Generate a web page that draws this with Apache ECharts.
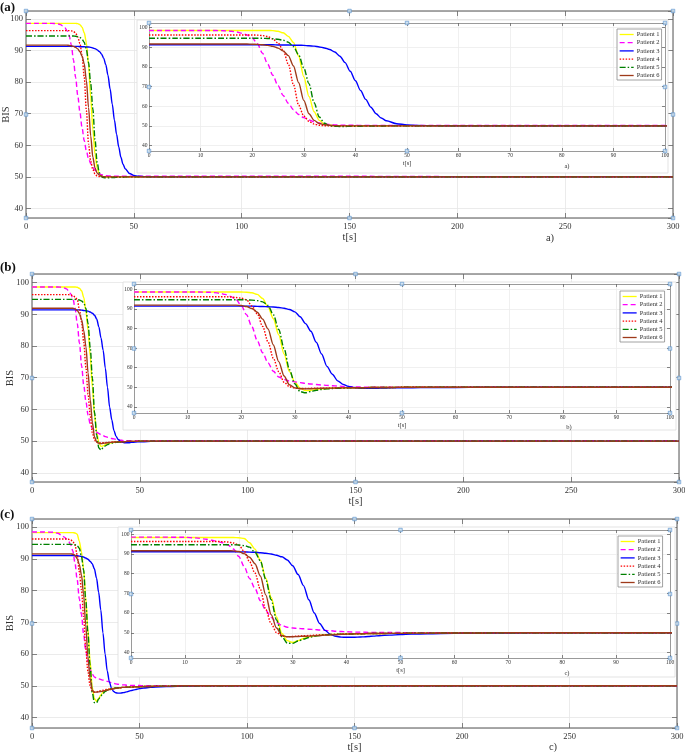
<!DOCTYPE html>
<html><head><meta charset="utf-8">
<script src="https://cdn.jsdelivr.net/npm/echarts@6/dist/echarts.min.js"></script>
<style>html,body{margin:0;padding:0;background:#fff}#c{width:685px;height:752px}</style>
</head><body><div id="c"></div>
<script>
// ---------------- DATA ----------------
const time = [0,5,10,12,14,15,16,17,18,19,
  20,21,22,23,24,25,26,27,28,29,
  30,31,32,33,34,35,36,37,38,39,
  40,41,42,43,44,45,46,48,50,52,
  55,60,65,70,80,90,100,150,200,250,300];
const patientNames = ['Patient 1','Patient 2','Patient 3','Patient 4','Patient 5','Patient 6'];
const panelTags = ['(a)','(b)','(c)'];
const captionTags = ['a)','b)','c)'];
const yTitle = 'BIS';

// panel (a)
const bisA1 = [98.6,98.6,98.6,98.6,98.6,98.6,98.6,98.6,98.6,98.6,
  98.6,98.6,98.6,98.6,98.5,98.2,97.4,95.6,92.5,85.5,
  75,65,57.2,52.8,50.9,50.3,50.1,50,50,50,
  50,50,50,50,50,50,50,50,50,50,
  50,50,50,50,50,50,50,50,50,50,50];
const bisA2 = [98.6,98.6,98.6,98.6,98.5,98.4,98.2,97.8,97.2,96.3,
  94.8,91.8,87,81.5,75.8,70.5,65.5,61.5,58.2,55.8,
  54.2,53,52.1,51.5,51,50.7,50.5,50.4,50.3,50.3,
  50.3,50.2,50.2,50.2,50.2,50.2,50.2,50.2,50.2,50.2,
  50.2,50.2,50.2,50.2,50.2,50.2,50.2,50.2,50.1,50.1,50.1];
const bisA3 = [91.3,91.3,91.3,91.3,91.3,91.3,91.3,91.3,91.3,91.3,
  91.3,91.3,91.3,91.3,91.3,91.2,91.2,91.2,91.1,91.1,
  91,90.8,90.6,90.2,89.7,88.9,87.6,85.5,82.2,77.8,
  73,68,63.5,59.5,56.2,54,52.6,51.1,50.5,50.2,
  50.1,50,50,50,50,50,50,50,50,50,50];
const bisA4 = [96.3,96.3,96.3,96.3,96.3,96.3,96.3,96.3,96.3,96.3,
  96.3,96.2,96,95.5,94.3,92.2,88.5,81.5,71,60.5,
  55,52.3,50.9,50.3,50.1,50,50,50,50,50,
  50,50,50,50,50,50,50,50,50,50,
  50,50,50,50,50,50,50,50,50,50,50];
const bisA5 = [94.6,94.6,94.6,94.6,94.6,94.6,94.6,94.6,94.6,94.6,
  94.6,94.6,94.6,94.5,94.4,94.1,93.6,92.6,90.3,86.2,
  79.5,71.5,61.8,54.5,51.3,50.1,49.8,49.7,49.7,49.8,
  49.8,49.8,49.9,49.9,49.9,49.9,50,50,50,50,
  50,50,50,50,50,50,50,50,50,50,50];
const bisA6 = [91.7,91.7,91.7,91.7,91.7,91.7,91.7,91.7,91.7,91.7,
  91.6,91.5,91.3,91,90.5,89.6,88.2,85.8,80.5,72,
  63,56.2,52.8,51.2,50.6,50.3,50.1,50,50,50,
  50,50,50,50,50,50,50,50,50,50,
  50,50,50,50,50,50,50,50,50,50,50];

// panel (b)
const bisB1 = [98.6,98.6,98.6,98.6,98.6,98.6,98.6,98.6,98.6,98.6,
  98.6,98.5,98.2,97.4,95.3,91,85,76.8,67,58,
  52.8,49.5,48.3,48.5,48.9,49.2,49.4,49.5,49.6,49.7,
  49.7,49.8,49.8,49.8,49.9,49.9,49.9,49.9,50,50,
  50,50,50,50,50,50,50,50,50,50,50];
const bisB2 = [98.6,98.6,98.6,98.6,98.5,98.3,98,97.4,96.4,94.9,
  91.8,87,80.9,73.8,67.6,62.5,58.2,55.3,54,53.2,
  52.8,52.4,52,51.7,51.4,51.2,51,50.8,50.7,50.5,
  50.4,50.3,50.2,50.1,50.1,50.1,50.1,50.1,50.1,50.1,
  50.1,50.1,50.1,50.1,50.1,50.1,50.1,50.1,50.1,50.1,50.1];
const bisB3 = [91.4,91.4,91.4,91.4,91.4,91.4,91.4,91.4,91.4,91.4,
  91.4,91.4,91.4,91.3,91.2,91.1,91,90.7,90.3,89.7,
  88.5,86,82.5,78.6,73,67,60.7,56.7,53.3,51.5,
  50.5,49.9,49.6,49.5,49.5,49.5,49.6,49.7,49.8,49.8,
  49.9,49.9,50,50,50,50,50,50,50,50,50];
const bisB4 = [96.2,96.2,96.2,96.2,96.2,96.2,96.2,96.2,96.1,95.8,
  95.5,94.6,91.5,87.5,81.1,73.2,64.8,58,52.6,50.3,
  49.6,49.4,49.4,49.5,49.5,49.6,49.6,49.7,49.7,49.7,
  49.8,49.8,49.8,49.8,49.9,49.9,49.9,49.9,50,50,
  50,50,50,50,50,50,50,50,50,50,50];
const bisB5 = [94.7,94.7,94.7,94.7,94.7,94.7,94.7,94.7,94.7,94.7,
  94.7,94.6,94.5,94.2,93.6,91.8,87,79.5,69.8,59,
  51.8,47.8,47.2,47.9,48.5,48.9,49.2,49.4,49.5,49.6,
  49.7,49.7,49.8,49.8,49.9,49.9,49.9,49.9,50,50,
  50,50,50,50,50,50,50,50,50,50,50];
const bisB6 = [91.9,91.9,91.9,91.9,91.9,91.9,91.9,91.9,91.9,91.9,
  91.7,91.2,90.2,88.3,84.8,79.8,71.6,63.1,55.8,51.3,
  49.7,49.3,49.2,49.3,49.4,49.5,49.6,49.6,49.7,49.7,
  49.8,49.8,49.8,49.8,49.9,49.9,49.9,49.9,50,50,
  50,50,50,50,50,50,50,50,50,50,50];

// panel (c)
const bisC1 = [98.3,98.3,98.3,98.3,98.3,98.3,98.3,98.3,98.3,98.3,
  98.2,97.8,95.6,92.4,86.8,77.8,68,58,49.6,46,
  45.1,46,47.1,47.9,48.4,48.7,48.9,49.1,49.2,49.3,
  49.4,49.4,49.5,49.5,49.6,49.6,49.6,49.7,49.7,49.8,
  49.8,49.9,49.9,50,50,50,50,50,50,50,50];
const bisC2 = [98.5,98.5,98.4,98.1,97.4,96.9,96.3,95.6,94.5,92.5,
  88.7,83.5,77.5,72.5,66.3,61.4,57.8,55.2,53.7,52.8,
  52.4,52.2,52,51.8,51.6,51.4,51.2,51,50.8,50.6,
  50.5,50.4,50.3,50.3,50.2,50.2,50.1,50.1,50.1,50,
  50,50,50,50,50,50,50,50,50,50,50];
const bisC3 = [91.1,91.1,91.1,91.1,91.1,91.1,91.1,91.1,91.1,91.1,
  91,91,90.9,90.8,90.6,90.3,89.9,89.3,88.5,86.9,
  84,79.5,73.9,66.7,60,54.7,51.2,49.2,48.2,47.8,
  47.7,47.7,47.8,47.9,48.1,48.3,48.5,48.8,49.1,49.3,
  49.5,49.7,49.8,49.9,50,50,50,50,50,50,50];
const bisC4 = [96.3,96.3,96.3,96.3,96.3,96.3,96.3,96.2,96,95.5,
  94.4,91.3,86,80.3,72,61.8,54.6,50.1,48.3,48,
  48.1,48.3,48.5,48.6,48.8,48.9,49,49.1,49.2,49.3,
  49.4,49.4,49.5,49.5,49.6,49.6,49.6,49.7,49.7,49.8,
  49.8,49.9,49.9,50,50,50,50,50,50,50,50];
const bisC5 = [94.6,94.6,94.6,94.6,94.6,94.6,94.6,94.6,94.6,94.6,
  94.5,94.2,93.4,90.8,86.5,77,66.8,56.5,48,44.7,
  44.6,45.8,46.8,47.6,48.2,48.6,48.9,49.1,49.2,49.3,
  49.4,49.4,49.5,49.5,49.6,49.6,49.6,49.7,49.7,49.8,
  49.8,49.9,49.9,50,50,50,50,50,50,50,50];
const bisC6 = [91.6,91.6,91.6,91.6,91.6,91.6,91.6,91.6,91.6,91.5,
  91.2,90.1,88.3,85,78.8,69.2,59.2,52.4,48.6,48,
  48,48.1,48.2,48.3,48.5,48.6,48.8,48.9,49,49.2,
  49.3,49.4,49.5,49.5,49.6,49.6,49.6,49.7,49.7,49.8,
  49.8,49.9,49.9,50,50,50,50,50,50,50,50];

const panelData = [
  [bisA1,bisA2,bisA3,bisA4,bisA5,bisA6],
  [bisB1,bisB2,bisB3,bisB4,bisB5,bisB6],
  [bisC1,bisC2,bisC3,bisC4,bisC5,bisC6]
];

// ---------------- STYLE / LAYOUT ----------------
const FONT = "'Liberation Serif','Times New Roman',serif";
const lineStyles = [
  {color:'#ffff00', type:'solid', width:1.4},
  {color:'#ff00ff', type:[5,3], width:1.4},
  {color:'#0000ff', type:'solid', width:1.4},
  {color:'#ff0000', type:[1.5,1.5], width:1.4},
  {color:'#008000', type:[6,2,1.5,2], width:1.4},
  {color:'#9e3a1a', type:'solid', width:1.4}
];
const layouts = [
  { main:{left:26, top:11, width:647, height:207, ymin:37, ymax:102.5, nameGap:13},
    inset:{left:149, top:23, width:516, height:128, ymin:37.2, ymax:102.4, nameGap:9},
    box:{x:137, y:20, w:531, h:153}, legend:{left:617, top:29},
    tag:{x:0, y:8}, bis:{x:6, y:114.5}, mainCap:{x:550, y:238}, insetCap:{x:567, y:166} },
  { main:{left:32, top:274, width:647, height:208, ymin:37.1, ymax:102.7, nameGap:11},
    inset:{left:134, top:284, width:536, height:129, ymin:36.9, ymax:102.7, nameGap:8},
    box:{x:123, y:282, w:553, h:148}, legend:{left:620, top:291},
    tag:{x:0, y:268}, bis:{x:10, y:378}, mainCap:null, insetCap:{x:569, y:427} },
  { main:{left:32, top:519, width:645, height:209, ymin:36.7, ymax:102.6, nameGap:13},
    inset:{left:131, top:530, width:539, height:128, ymin:37.2, ymax:102.1, nameGap:9},
    box:{x:118, y:527, w:557, h:150}, legend:{left:618, top:536},
    tag:{x:0, y:515}, bis:{x:10, y:623}, mainCap:{x:553, y:747}, insetCap:{x:567, y:673} }
];

const grid = [], xAxis = [], yAxis = [], series = [], legend = [], gEls = [];

function xAx(gi, min, max, interval, pos, opts) {
  const isInset = opts.inset;
  return Object.assign({
    gridIndex: gi, type:'value', min, max, interval, position: pos,
    z: isInset ? 4 : 0,
    axisLine:{show:true, onZero:false, lineStyle:{color: isInset ? '#9a9a9a' : '#8c8c8c', width: isInset ? 1 : 1.5}},
    axisTick:{show:true, inside:true, length: isInset ? 3 : 5, lineStyle:{color:'#666', width:0.8}},
    axisLabel:{show: pos === 'bottom', fontSize: isInset ? 5.5 : 8.5, color:'#333', fontFamily:FONT, margin: isInset ? 2 : 4},
    splitLine:{show: pos === 'bottom', lineStyle:{color: isInset ? '#ececec' : '#e6e6e6', width:0.8}}
  }, opts.extra || {});
}
function yAx(gi, min, max, pos, opts) {
  const isInset = opts.inset;
  return Object.assign({
    gridIndex: gi, type:'value', min, max, splitNumber:6, position: pos,
    z: isInset ? 4 : 0,
    axisLine:{show:true, onZero:false, lineStyle:{color: isInset ? '#9a9a9a' : '#8c8c8c', width: isInset ? 1 : 1.5}},
    axisTick:{show:true, inside:true, length: isInset ? 3 : 5, lineStyle:{color:'#666', width:0.8}},
    axisLabel:{show: pos === 'left', showMinLabel:false, showMaxLabel:false, fontSize: isInset ? 5.5 : 8.5, color:'#333', fontFamily:FONT, margin: isInset ? 1.5 : 3},
    splitLine:{show: pos === 'left', lineStyle:{color: isInset ? '#ececec' : '#e6e6e6', width:0.8}}
  }, opts.extra || {});
}

layouts.forEach((L, k) => {
  const gm = grid.length;
  grid.push({left:L.main.left, top:L.main.top, width:L.main.width, height:L.main.height, containLabel:false, outerBoundsMode:'none'});
  const gi = grid.length;
  grid.push({left:L.inset.left, top:L.inset.top, width:L.inset.width, height:L.inset.height, containLabel:false, outerBoundsMode:'none'});

  const xm = xAxis.length;
  xAxis.push(xAx(gm, 0, 300, 50, 'bottom', {inset:false, extra:{
    name:'t[s]', nameLocation:'middle', nameGap:L.main.nameGap,
    nameTextStyle:{fontSize:10.5, fontFamily:FONT, color:'#333'}}}));
  xAxis.push(xAx(gm, 0, 300, 50, 'top', {inset:false}));
  const xi = xAxis.length;
  xAxis.push(xAx(gi, 0, 100, 10, 'bottom', {inset:true, extra:{
    name:'t[s]', nameLocation:'middle', nameGap:L.inset.nameGap,
    nameTextStyle:{fontSize:6.5, fontFamily:FONT, color:'#333'}}}));
  xAxis.push(xAx(gi, 0, 100, 10, 'top', {inset:true}));

  const ym = yAxis.length;
  yAxis.push(yAx(gm, L.main.ymin, L.main.ymax, 'left', {inset:false}));
  yAxis.push(yAx(gm, L.main.ymin, L.main.ymax, 'right', {inset:false}));
  const yi = yAxis.length;
  yAxis.push(yAx(gi, L.inset.ymin, L.inset.ymax, 'left', {inset:true}));
  yAxis.push(yAx(gi, L.inset.ymin, L.inset.ymax, 'right', {inset:true}));

  panelData[k].forEach((vals, i) => {
    const pts = time.map((t, j) => [t, vals[j]]);
    series.push({type:'line', name:patientNames[i], xAxisIndex:xm, yAxisIndex:ym, data:pts,
      symbol:'none', smooth:0.3, smoothMonotone:'x', z:2, lineStyle:lineStyles[i], itemStyle:{color:lineStyles[i].color}});
    series.push({type:'line', name:patientNames[i], xAxisIndex:xi, yAxisIndex:yi, data:pts,
      symbol:'none', smooth:0.3, smoothMonotone:'x', z:5, lineStyle:lineStyles[i], itemStyle:{color:lineStyles[i].color}});
  });

  // selection handles (corner / mid markers)
  const handle = (xa, ya, xmin, xmax, ymin, ymax, z) => {
    const xmid = (xmin + xmax) / 2, ymid = (ymin + ymax) / 2;
    series.push({type:'scatter', name:'handles', xAxisIndex:xa, yAxisIndex:ya, silent:true, clip:false, z,
      symbol:'rect', symbolSize:3.5,
      itemStyle:{color:'#c6ddf1', borderColor:'#5b93cc', borderWidth:0.8},
      data:[[xmin,ymax],[xmid,ymax],[xmax,ymax],[xmin,ymid],[xmax,ymid],[xmin,ymin],[xmid,ymin],[xmax,ymin]]});
  };
  handle(xm, ym, 0, 300, L.main.ymin, L.main.ymax, 2.5);
  handle(xi, yi, 0, 100, L.inset.ymin, L.inset.ymax, 8);

  legend.push({data:patientNames, orient:'vertical', left:L.legend.left, top:L.legend.top, z:6,
    backgroundColor:'#fff', borderColor:'#8a8a8a', borderWidth:0.8, borderRadius:0,
    padding:[2,2,1,2], itemGap:1.2, itemWidth:14, itemHeight:6, selectedMode:false,
    itemStyle:{color:'rgba(0,0,0,0)', borderColor:'rgba(0,0,0,0)', borderWidth:0, opacity:0},
    lineStyle:{width:1.3},
    textStyle:{fontSize:6.5, fontFamily:FONT, color:'#333', padding:[0,0,0,-2]}});

  gEls.push({type:'rect', z:3, shape:{x:L.box.x, y:L.box.y, width:L.box.w, height:L.box.h},
    style:{fill:'#fff', stroke:'#dcdcdc', lineWidth:0.8}});
  gEls.push({type:'text', z:10, x:L.tag.x, y:L.tag.y,
    style:{text:panelTags[k], font:'bold 13px ' + FONT, fill:'#111', textVerticalAlign:'middle'}});
  gEls.push({type:'text', z:10, x:L.bis.x, y:L.bis.y, rotation:Math.PI/2,
    style:{text:yTitle, font:'10.5px ' + FONT, fill:'#333', textAlign:'center', textVerticalAlign:'middle'}});
  if (L.mainCap) gEls.push({type:'text', z:10, x:L.mainCap.x, y:L.mainCap.y,
    style:{text:captionTags[k], font:'10.5px ' + FONT, fill:'#333', textAlign:'center', textVerticalAlign:'middle'}});
  gEls.push({type:'text', z:10, x:L.insetCap.x, y:L.insetCap.y,
    style:{text:captionTags[k], font:'6.5px ' + FONT, fill:'#333', textAlign:'center', textVerticalAlign:'middle'}});
});

const chart = echarts.init(document.getElementById('c'), null, {renderer:'canvas'});
chart.setOption({
  animation:false,
  backgroundColor:'#fff',
  grid, xAxis, yAxis, series, legend,
  graphic:{elements:gEls}
});
</script></body></html>
